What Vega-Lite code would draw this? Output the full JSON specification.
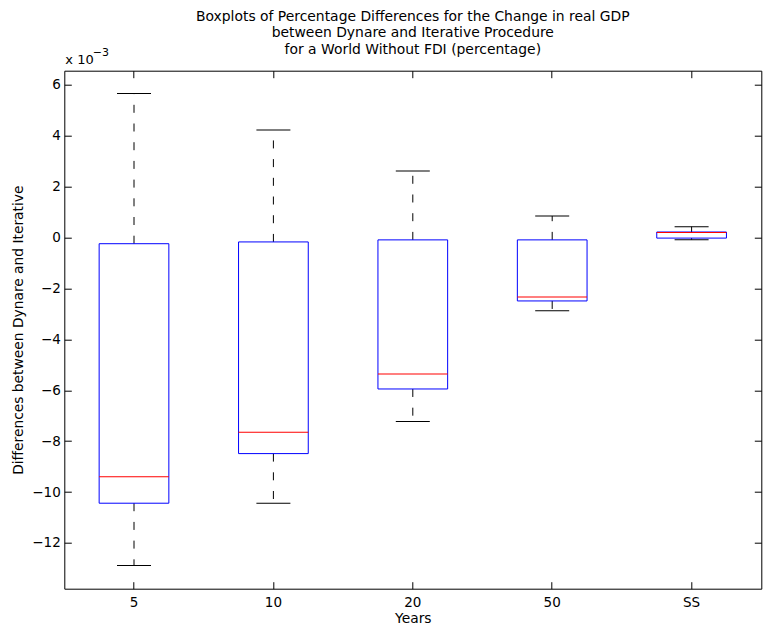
{
  "$schema": "https://vega.github.io/schema/vega-lite/v6.json",
  "width": 697,
  "height": 518,
  "autosize": {"type": "none"},
  "padding": {"left": 64.3, "top": 70.7, "right": 5.7, "bottom": 36.3},
  "background": "white",
  "title": {
    "text": ["Boxplots of Percentage Differences for the Change in real GDP", "between Dynare and Iterative Procedure", "for a World Without FDI (percentage)"],
    "fontSize": 13.9,
    "fontWeight": "normal",
    "font": "DejaVu Sans",
    "color": "black",
    "anchor": "middle",
    "frame": "group",
    "offset": -9.5,
    "lineHeight": 16.3
  },
  "config": {
    "view": {"stroke": "black", "strokeWidth": 1},
    "font": "DejaVu Sans",
    "axis": {
      "grid": false,
      "domain": false,
      "tickColor": "black",
      "tickSize": -7,
      "labelFont": "DejaVu Sans",
      "labelFontSize": 13.5,
      "labelColor": "black",
      "titleFont": "DejaVu Sans",
      "titleFontSize": 13.8,
      "titleFontWeight": "normal",
      "titleColor": "black"
    }
  },
  "data": {
    "values": [
      {"years": "5", "lower": -0.01289, "q1": -0.01044, "median": -0.00940, "q3": -0.00024, "upper": 0.00566},
      {"years": "10", "lower": -0.01044, "q1": -0.00849, "median": -0.00765, "q3": -0.00017, "upper": 0.00423},
      {"years": "20", "lower": -0.00723, "q1": -0.00595, "median": -0.00536, "q3": -0.00009, "upper": 0.00262},
      {"years": "50", "lower": -0.00288, "q1": -0.00249, "median": -0.00233, "q3": -0.00009, "upper": 0.00085},
      {"years": "SS", "lower": -0.00008, "q1": -0.00002, "median": 0.00020, "q3": 0.00022, "upper": 0.00043}
    ]
  },
  "encoding": {
    "x": {"field": "years", "type": "nominal", "sort": ["5", "10", "20", "50", "SS"], "scale": {"paddingInner": 0, "paddingOuter": 0}, "axis": null}
  },
  "layer": [
    {
      "mark": {"type": "rule", "color": "black", "strokeWidth": 1, "strokeDash": [8, 10.7]},
      "encoding": {
        "x": {"field": "years", "type": "nominal", "sort": ["5", "10", "20", "50", "SS"],
          "axis": {"orient": "bottom", "labelAngle": 0, "labelPadding": 14, "title": "Years", "titleX": 348.5, "titleY": 33.3, "titleBaseline": "alphabetic", "titleAnchor": null, "titleAlign": "center"}},
        "y": {"field": "q3", "type": "quantitative", "scale": {"domain": [-0.0138, 0.00656], "nice": false, "zero": false},
          "axis": {"orient": "left", "values": [-0.012, -0.01, -0.008, -0.006, -0.004, -0.002, 0, 0.002, 0.004, 0.006], "labelExpr": "format(datum.value*1000, '.0f')", "labelPadding": 11,
            "title": "Differences between Dynare and Iterative", "titleX": -46.3, "titleY": 259, "titleAngle": -90, "titleBaseline": "middle", "titleAlign": "center", "titleAnchor": null}},
        "y2": {"field": "upper"}
      }
    },
    {
      "mark": {"type": "rule", "color": "black", "strokeWidth": 1, "strokeDash": [8, 10.7]},
      "encoding": {
        "x": {"field": "years", "type": "nominal", "sort": ["5", "10", "20", "50", "SS"],
          "axis": {"orient": "top", "labels": false, "title": "x 10", "titleFontSize": 13, "titleX": 0.5, "titleY": -7.5, "titleAlign": "left", "titleBaseline": "alphabetic", "titleAnchor": null, "titleAngle": 0}},
        "y": {"field": "q1", "type": "quantitative",
          "axis": {"orient": "right", "labels": false, "values": [-0.012, -0.01, -0.008, -0.006, -0.004, -0.002, 0, 0.002, 0.004, 0.006],
            "title": "−3", "titleFontSize": 11, "titleX": -669, "titleY": -14.7, "titleAngle": 0, "titleAlign": "left", "titleBaseline": "alphabetic", "titleAnchor": null}},
        "y2": {"field": "lower"}
      }
    },
    {
      "mark": {"type": "tick", "color": "black", "size": 34, "thickness": 1, "opacity": 1},
      "encoding": {"y": {"field": "upper", "type": "quantitative", "axis": null}}
    },
    {
      "mark": {"type": "tick", "color": "black", "size": 34, "thickness": 1, "opacity": 1},
      "encoding": {"y": {"field": "lower", "type": "quantitative", "axis": null}}
    },
    {
      "mark": {"type": "bar", "filled": false, "color": "#0000ff", "strokeWidth": 1, "width": {"band": 0.5}},
      "encoding": {"y": {"field": "q1", "type": "quantitative", "axis": null}, "y2": {"field": "q3"}}
    },
    {
      "mark": {"type": "tick", "color": "#ff0000", "size": 69.7, "thickness": 1, "opacity": 1},
      "encoding": {"y": {"field": "median", "type": "quantitative", "axis": null}}
    }
  ],
  "resolve": {"axis": {"x": "independent", "y": "independent"}}
}
